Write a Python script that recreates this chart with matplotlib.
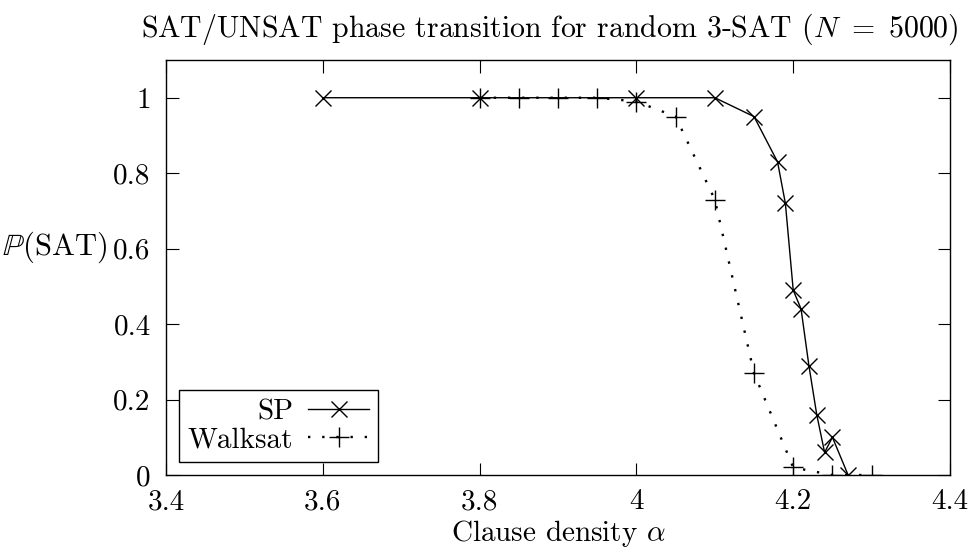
import matplotlib
matplotlib.use('Agg')
import matplotlib.pyplot as plt

plt.rcParams['font.family'] = ['cmr10', 'DejaVu Serif']
plt.rcParams['mathtext.fontset'] = 'cm'
plt.rcParams['axes.formatter.use_mathtext'] = True

# data
sp_alpha = [3.6, 3.8, 4.0, 4.1, 4.15, 4.18, 4.19, 4.2, 4.21, 4.22, 4.23, 4.24, 4.25, 4.27]
sp_psat = [1.0, 1.0, 1.0, 1.0, 0.95, 0.83, 0.72, 0.49, 0.44, 0.29, 0.16, 0.06, 0.10, 0.0]
ws_alpha = [3.8, 3.85, 3.9, 3.95, 4.0, 4.05, 4.1, 4.15, 4.2, 4.25, 4.3]
ws_psat = [1.0, 1.0, 1.0, 1.0, 0.99, 0.95, 0.73, 0.27, 0.02, 0.0, 0.0]

xticks = [3.4, 3.6, 3.8, 4.0, 4.2, 4.4]
xticklabels = ['3.4', '3.6', '3.8', '4', '4.2', '4.4']
yticks = [0, 0.2, 0.4, 0.6, 0.8, 1.0]
yticklabels = ['0', '0.2', '0.4', '0.6', '0.8', '1']

fs = 21

fig = plt.figure(figsize=(9.74, 5.53), dpi=100)
ax = fig.add_axes([0.1704, 0.141, 0.805, 0.7505])

ax.plot(sp_alpha, sp_psat, color='black', linewidth=1.0, marker='x',
        markersize=11, markeredgewidth=1.0, label='SP')
ax.plot(ws_alpha, ws_psat, color='black', linewidth=1.7, linestyle=(0, (1, 5)),
        marker='+', markersize=14, markeredgewidth=1.0, label='Walksat')

ax.set_xlim(3.4, 4.4)
ax.set_ylim(0, 1.1)
ax.set_xticks(xticks)
ax.set_xticklabels(xticklabels)
ax.set_yticks(yticks)
ax.set_yticklabels(yticklabels)
ax.tick_params(direction='in', length=9, width=0.8, top=True, right=True,
               labelsize=fs, colors='black')
ax.tick_params(axis='y', pad=11)
ax.tick_params(axis='x', pad=10)
for s in ax.spines.values():
    s.set_linewidth(1.0)

fig.text(0.565, 0.947, r'SAT/UNSAT phase transition for random 3-SAT ($N\ =\ 5000$)',
         ha='center', va='center', fontsize=fs + 0.5)
fig.text(0.002, 0.552, r'$\mathbb{P}$(SAT)', ha='left', va='center', fontsize=fs + 1)
fig.text(0.573, 0.036, r'Clause density $\alpha$', ha='center', va='center', fontsize=fs)

leg = ax.legend(loc='lower left', markerfirst=False, fancybox=False,
                edgecolor='black', framealpha=1, fontsize=fs,
                handlelength=2.1, handletextpad=0.5, borderaxespad=0.45,
                labelspacing=0.05, borderpad=0.3)
leg.get_frame().set_linewidth(1.0)

fig.savefig('out.png', dpi=100)
